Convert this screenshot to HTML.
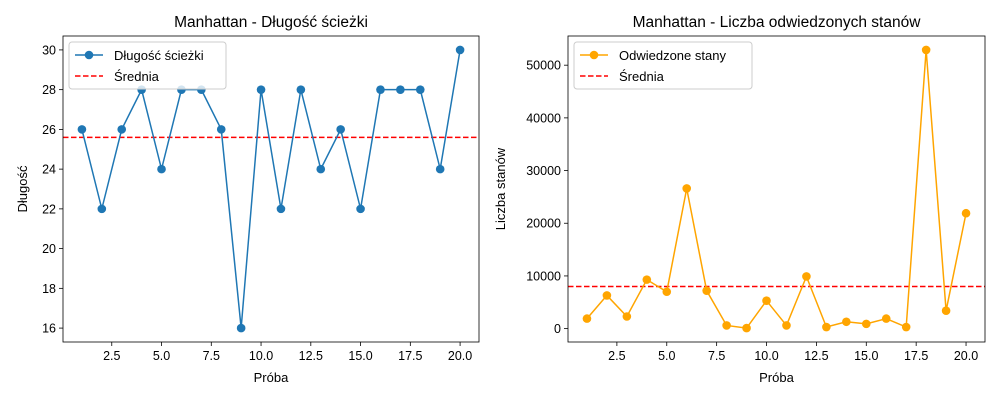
<!DOCTYPE html>
<html><head><meta charset="utf-8"><style>
html,body{margin:0;padding:0;background:#fff;}
svg{display:block;font-family:"Liberation Sans","DejaVu Sans",sans-serif;}
</style></head><body>
<svg id="fig" width="1000" height="400" viewBox="0 0 1000 400"></svg>
<script>
const trials = [1,2,3,4,5,6,7,8,9,10,11,12,13,14,15,16,17,18,19,20];
const pathLengths = [26,22,26,28,24,28,28,26,16,28,22,28,24,26,22,28,28,28,24,30];
const visitedStates = [1900,6300,2300,9300,7000,26600,7200,600,100,5300,600,9900,300,1300,900,1900,300,52900,3400,21900];
const xTicks = [2.5,5.0,7.5,10.0,12.5,15.0,17.5,20.0];
const yTicksLeft = [16,18,20,22,24,26,28,30];
const yTicksRight = [0,10000,20000,30000,40000,50000];

const NS="http://www.w3.org/2000/svg";
const svg=document.getElementById('fig');
function mk(tag,attrs,parent){const e=document.createElementNS(NS,tag);for(const k in attrs)e.setAttribute(k,attrs[k]);(parent||svg).appendChild(e);return e;}

function chart(cfg){
  const {x0,x1,y0,y1}=cfg;
  const g=mk('g',{});
  
  
  const vals=cfg.values;
  const xmin=Math.min(...trials),xmax=Math.max(...trials),xm=(xmax-xmin)*0.05;
  const ymin=Math.min(...vals),ymax=Math.max(...vals),ym=(ymax-ymin)*0.05;
  const xs=v=>x0+(v-(xmin-xm))/((xmax+xm)-(xmin-xm))*(x1-x0);
  const ys=v=>y1-(v-(ymin-ym))/((ymax+ym)-(ymin-ym))*(y1-y0);
  xTicks.forEach(t=>{
    const l=mk('line',{x1:xs(t),x2:xs(t),y1:y1,y2:y1+4,stroke:'#000','stroke-width':0.8},g);
    
    
    const tx=mk('text',{x:xs(t),y:y1+18,'text-anchor':'middle','font-size':12.5},g);
    tx.textContent=t.toFixed(1);
    
    
  });
  cfg.yTicks.forEach(t=>{
    const l=mk('line',{x1:x0-4,x2:x0,y1:ys(t),y2:ys(t),stroke:'#000','stroke-width':0.8},g);
    
    
    const tx=mk('text',{x:x0-7,y:ys(t)+4.5,'text-anchor':'end','font-size':12.5},g);
    tx.textContent=t;
    
    
  });
  const mean=vals.reduce((a,b)=>a+b,0)/vals.length;
  const ml=mk('line',{x1:x0,x2:x1,y1:ys(mean),y2:ys(mean),stroke:'#ff0000','stroke-width':1.5,'stroke-dasharray':'5.5,2.5'},g);
  
  
  const pts=trials.map((t,i)=>xs(t)+','+ys(vals[i])).join(' ');
  const pl=mk('polyline',{points:pts,fill:'none',stroke:cfg.color,'stroke-width':1.5},g);
  
  
  trials.forEach((t,i)=>{
    const c=mk('circle',{cx:xs(t),cy:ys(vals[i]),r:4.3,fill:cfg.color},g);
    
    
  });
  const fr=mk('rect',{x:x0,y:y0,width:x1-x0,height:y1-y0,fill:'none',stroke:'#000','stroke-width':0.8},g);
  
  
  const ti=mk('text',{x:(x0+x1)/2,y:y0-9,'text-anchor':'middle','font-size':15.5},g);
  ti.textContent=cfg.title;
  
  
  const xl=mk('text',{x:(x0+x1)/2,y:y1+40,'text-anchor':'middle','font-size':13},g);
  xl.textContent='Próba';
  
  
  const yl=mk('text',{x:0,y:0,'text-anchor':'middle','font-size':13,transform:`translate(${cfg.ylx},${(y0+y1)/2}) rotate(-90)`},g);
  yl.textContent=cfg.ylabel;
  
  
  const lg=mk('g',{},g);
  
  
  mk('rect',{x:x0+6,y:y0+6,width:cfg.legW,height:47,rx:3,fill:'#fff','fill-opacity':0.8,stroke:'#ccc','stroke-width':1},lg);
  mk('line',{x1:x0+12,x2:x0+40,y1:y0+19,y2:y0+19,stroke:cfg.color,'stroke-width':1.5},lg);
  mk('circle',{cx:x0+26,cy:y0+19,r:4.3,fill:cfg.color},lg);
  const t1=mk('text',{x:x0+51,y:y0+24,'font-size':13},lg);
  t1.textContent=cfg.legLabel;
  
  
  mk('line',{x1:x0+12,x2:x0+40,y1:y0+40,y2:y0+40,stroke:'#ff0000','stroke-width':1.5,'stroke-dasharray':'5.5,2.5'},lg);
  const t2=mk('text',{x:x0+51,y:y0+45,'font-size':13},lg);
  t2.textContent='Średnia';
  
  
}
chart({name:'path-length-chart',x0:63,x1:479,y0:36,y1:342,values:pathLengths,yTicks:yTicksLeft,color:'#1f77b4',
  title:'Manhattan - Długość ścieżki',ylabel:'Długość',ylx:27,legLabel:'Długość ścieżki',legW:157});
chart({name:'visited-states-chart',x0:568,x1:985,y0:36,y1:342,values:visitedStates,yTicks:yTicksRight,color:'#ffa500',
  title:'Manhattan - Liczba odwiedzonych stanów',ylabel:'Liczba stanów',ylx:505,legLabel:'Odwiedzone stany',legW:178});
</script>
</body></html>
